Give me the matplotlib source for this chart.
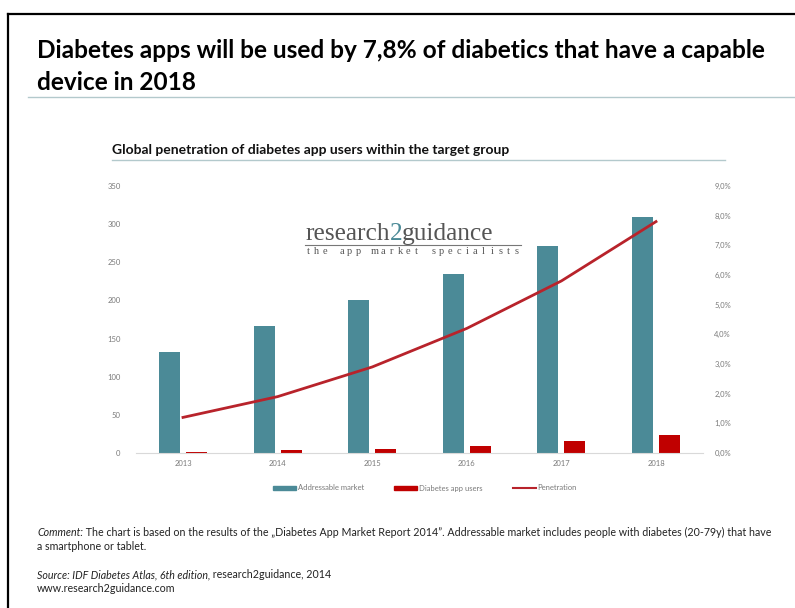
#	===============
#    Diabetes app penetration chart
#	===============

import numpy as np
import matplotlib.pyplot as plt
from matplotlib.patches import Patch
from matplotlib.lines import Line2D
from matplotlib.ticker import FuncFormatter

# Data
years = ["2013", "2014", "2015", "2016", "2017", "2018"]
addressable = [133, 166, 200, 235, 271, 309]
app_users = [1.5, 4, 5.5, 9, 16, 23]
penetration = [1.2, 1.9, 2.9, 4.2, 5.8, 7.8]
left_ticks = [0, 50, 100, 150, 200, 250, 300, 350]
right_ticks = [0, 1, 2, 3, 4, 5, 6, 7, 8, 9]

teal = "#4b8a97"
red = "#c00000"
line_red = "#b8232b"
grey = "#7a7a7a"

W, H = 795, 608
fig = plt.figure(figsize=(W / 100, H / 100), dpi=100)
plt.rcParams['font.family'] = ['Lato', 'DejaVu Sans']

def fx(px):
    return px / W

def fy(py):
    return 1 - py / H

# outer frame (top and left edge only)
fig.add_artist(Line2D([fx(8), 1], [fy(14), fy(14)], color="black", lw=1.6))
fig.add_artist(Line2D([fx(8), fx(8)], [fy(14), 0], color="black", lw=1.6))

# headline
fig.text(fx(37), fy(50), "Diabetes apps will be used by 7,8% of diabetics that have a capable",
         fontsize=17.6, fontweight="bold", color="black", va="center", ha="left")
fig.text(fx(37), fy(82), "device in 2018",
         fontsize=17.6, fontweight="bold", color="black", va="center", ha="left")
fig.add_artist(Line2D([fx(28), 1], [fy(97), fy(97)], color="#b3c9cc", lw=1.0))

# chart title
fig.text(fx(112), fy(150), "Global penetration of diabetes app users within the target group",
         fontsize=10, fontweight="bold", color="#111111", va="center", ha="left")
fig.add_artist(Line2D([fx(112), fx(725)], [fy(160), fy(160)], color="#b3c9cc", lw=1.0))

#	===============
#    Bars and line
#	===============
ax = fig.add_axes([fx(135.7), fy(453), fx(703.3) - fx(135.7), fy(186) - fy(453)])
x = np.arange(len(years))
w = 0.222
ax.bar(x - 0.143, addressable, width=w, color=teal, zorder=2)
ax.bar(x + 0.143, app_users, width=w, color=red, zorder=2)
ax.set_xlim(-0.5, len(years) - 0.5)
ax.set_ylim(0, 350)
ax.set_yticks(left_ticks)
ax.set_xticks(x)
ax.set_xticklabels(years)
for s in ["top", "right", "left"]:
    ax.spines[s].set_visible(False)
ax.spines["bottom"].set_color("#d9d9d9")
ax.tick_params(length=0, labelsize=5.5, labelcolor=grey)
ax.tick_params(axis="y", pad=11)
ax.tick_params(axis="x", pad=5)

ax2 = ax.twinx()
ax2.plot(x, penetration, color=line_red, lw=2.0, zorder=3)
ax2.set_ylim(0, 9)
ax2.set_yticks(right_ticks)
ax2.yaxis.set_major_formatter(FuncFormatter(lambda v, p: ("%.1f%%" % v).replace(".", ",")))
for s in ["top", "right", "left", "bottom"]:
    ax2.spines[s].set_visible(False)
ax2.tick_params(length=0, labelsize=5.5, labelcolor=grey, pad=8)

# legend
handles = [Patch(color=teal), Patch(color=red), Line2D([], [], color=line_red, lw=1.5)]
leg = fig.legend(handles, ["Addressable market", "Diabetes app users", "Penetration"],
                 loc="center", bbox_to_anchor=(fx(425), fy(488)), ncol=3, frameon=False,
                 fontsize=5.5, handlelength=3.0, handleheight=0.5, handletextpad=0.2,
                 columnspacing=4.0)
for t in leg.get_texts():
    t.set_color(grey)

# logo
t1 = fig.text(fx(305), fy(240), "research", fontsize=18.3, family="Liberation Serif",
              color="#555555", va="baseline", ha="left")
a2 = ax.annotate("2", xy=(1, 0), xycoords=t1, fontsize=18.3, family="Liberation Serif",
                 color=teal, va="bottom", ha="left", annotation_clip=False)
ax.annotate("guidance", xy=(1, 0), xycoords=a2, fontsize=18.3, family="Liberation Serif",
            color="#555555", va="bottom", ha="left", annotation_clip=False)
fig.add_artist(Line2D([fx(305), fx(521)], [fy(245), fy(245)], color="#777777", lw=0.8))

# tagline, letters spread over the logo width
tagline = "the app market specialists"
pos = np.linspace(308, 517, len(tagline))
for ch, px in zip(tagline, pos):
    fig.text(fx(px), fy(252), ch, fontsize=7.5, family="Liberation Serif",
             color="#555555", va="center", ha="center")

#	===============
#    Notes
#	===============
note_fs = 7.7
c1 = fig.text(fx(37), fy(533), "Comment:", fontsize=note_fs, style="italic",
              color="#222222", va="center", ha="left")
ax.annotate(" The chart is based on the results of the \u201eDiabetes App Market Report 2014\u201d. "
            "Addressable market includes people with diabetes (20-79y) that have",
            xy=(1, 0), xycoords=c1, fontsize=note_fs, color="#222222", va="bottom",
            ha="left", annotation_clip=False)
fig.text(fx(37), fy(547), "a smartphone or tablet.", fontsize=note_fs, color="#222222",
         va="center", ha="left")
s1 = fig.text(fx(37), fy(575), "Source: IDF Diabetes Atlas, 6th edition,", fontsize=note_fs,
              style="italic", color="#222222", va="center", ha="left")
ax.annotate(" research2guidance, 2014", xy=(1, 0), xycoords=s1, fontsize=note_fs,
            color="#222222", va="bottom", ha="left", annotation_clip=False)
fig.text(fx(37), fy(589), "www.research2guidance.com", fontsize=note_fs, color="#222222",
         va="center", ha="left")

fig.savefig("out.png", dpi=100)
